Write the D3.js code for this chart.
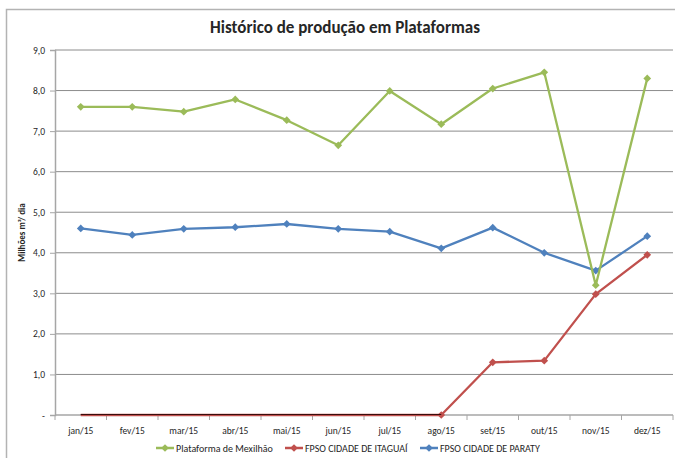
<!DOCTYPE html>
<html>
<head>
<meta charset="utf-8">
<script src="https://cdn.jsdelivr.net/npm/d3@7"></script>
<style>
  body { margin: 0; background: #fff; }
  text { font-family: Carlito, Calibri, "Liberation Sans Narrow", "Open Sans", sans-serif; fill: #262626; }
</style>
</head>
<body>
<div id="chart"></div>
<script>
var months = ["jan/15", "fev/15", "mar/15", "abr/15", "mai/15", "jun/15",
              "jul/15", "ago/15", "set/15", "out/15", "nov/15", "dez/15"];
var mexilhao = [7.6, 7.6, 7.48, 7.78, 7.27, 6.65, 7.99, 7.17, 8.05, 8.45, 3.2, 8.3];
var itaguai  = [0, 0, 0, 0, 0, 0, 0, 0, 1.3, 1.34, 2.98, 3.95];
var paraty   = [4.6, 4.44, 4.59, 4.63, 4.71, 4.59, 4.52, 4.11, 4.62, 4.0, 3.56, 4.41];
var yTicks = [0, 1, 2, 3, 4, 5, 6, 7, 8, 9];

var svgWidth = 675;
var svgHeight = 458;
var margin = { top: 50, right: 2, bottom: 43, left: 55 };
var width = svgWidth - margin.left - margin.right;
var height = svgHeight - margin.top - margin.bottom;

var svg = d3.select("#chart")
  .append("svg")
  .attr("width", svgWidth)
  .attr("height", svgHeight);

// outer frame of the chart area
svg.append("rect")
  .attr("x", 6.5).attr("y", 9.5)
  .attr("width", 700).attr("height", 500)
  .attr("fill", "none")
  .attr("stroke", "#b3b3b3")
  .attr("stroke-width", 1.5);

svg.append("text")
  .attr("x", 345).attr("y", 33)
  .attr("text-anchor", "middle")
  .attr("font-size", "17px")
  .attr("font-weight", "bold")
  .text("Histórico de produção em Plataformas");

var chartGroup = svg.append("g")
  .attr("transform", `translate(${margin.left}, ${margin.top})`);

var x = d3.scaleBand().domain(months).range([0, width]);
var y = d3.scaleLinear().domain([0, 9]).range([height, 0]);

// gridlines
chartGroup.append("g")
  .selectAll("line")
  .data(yTicks.slice(1))
  .enter()
  .append("line")
  .attr("x1", 0).attr("x2", width)
  .attr("y1", d => y(d)).attr("y2", d => y(d))
  .attr("stroke", "#8c8c8c")
  .attr("stroke-width", 1);

var fmt = d => d === 0 ? "-" : d3.format(".1f")(d).replace(".", ",");

var leftAxis = d3.axisLeft(y).tickValues(yTicks).tickFormat(fmt).tickSize(5).tickPadding(5);
var yAxis = chartGroup.append("g").call(leftAxis);
yAxis.select(".domain").attr("stroke", "#a6a6a6").attr("stroke-width", 1.5);
yAxis.selectAll(".tick line").attr("stroke", "#a6a6a6");
yAxis.selectAll("text").attr("font-size", "9.5px").attr("fill", "#404040");

// x axis with tick marks between categories
var xAxisG = chartGroup.append("g").attr("transform", `translate(0, ${height})`);
xAxisG.append("line")
  .attr("x1", 0).attr("x2", width)
  .attr("stroke", "#a6a6a6").attr("stroke-width", 1.5);
xAxisG.selectAll(".xtick")
  .data(months)
  .enter()
  .append("line")
  .attr("class", "xtick")
  .attr("x1", d => x(d) + x.bandwidth()).attr("x2", d => x(d) + x.bandwidth())
  .attr("y1", 0).attr("y2", 5)
  .attr("stroke", "#a6a6a6");
xAxisG.append("line")
  .attr("x1", 0).attr("x2", 0).attr("y1", 0).attr("y2", 5)
  .attr("stroke", "#a6a6a6");
xAxisG.selectAll(".xlabel")
  .data(months)
  .enter()
  .append("text")
  .attr("class", "xlabel")
  .attr("x", d => x(d) + x.bandwidth() / 2)
  .attr("y", 19)
  .attr("text-anchor", "middle")
  .attr("font-size", "9.5px")
  .attr("fill", "#404040")
  .text(d => d);

svg.append("text")
  .attr("transform", `translate(25, ${margin.top + height / 2}) rotate(-90)`)
  .attr("text-anchor", "middle")
  .attr("font-size", "9px")
  .attr("font-weight", "bold")
  .text("Milhões  m³/ dia");

var series = [
  { name: "Plataforma de Mexilhão", values: mexilhao, color: "#9bbb59", firstMarker: 0 },
  { name: "FPSO CIDADE DE ITAGUAÍ", values: itaguai, color: "#c0504d", firstMarker: 7 },
  { name: "FPSO CIDADE DE PARATY", values: paraty, color: "#4f81bd", firstMarker: 0 }
];

var line = d3.line()
  .x((d, i) => x(months[i]) + x.bandwidth() / 2)
  .y(d => y(d));

// square turned 45 degrees gives the even diamond of the original
var diamond = d3.symbol().type(d3.symbolSquare).size(30);

// draw red first so blue and green sit above it
[series[1], series[2], series[0]].forEach(function(s) {
  chartGroup.append("path")
    .datum(s.values)
    .attr("d", line)
    .attr("fill", "none")
    .attr("stroke", s.color)
    .attr("stroke-width", 2.3)
    .attr("stroke-linejoin", "round");

  chartGroup.selectAll(null)
    .data(s.values.map((v, i) => ({ v: v, i: i })).filter(d => d.i >= s.firstMarker))
    .enter()
    .append("path")
    .attr("d", diamond)
    .attr("transform", d => `translate(${x(months[d.i]) + x.bandwidth() / 2}, ${y(d.v)}) rotate(45)`)
    .attr("fill", s.color);
});

// dark overlay where the red series runs along the axis
chartGroup.append("line")
  .attr("x1", x(months[0]) + x.bandwidth() / 2)
  .attr("x2", x(months[7]) + x.bandwidth() / 2)
  .attr("y1", y(0) - 0.5).attr("y2", y(0) - 0.5)
  .attr("stroke", "#3a0d0d").attr("stroke-width", 1.2);

// legend
var legendX = [156, 285, 420];
var legend = svg.selectAll(".legend")
  .data(series)
  .enter()
  .append("g")
  .attr("transform", (d, i) => `translate(${legendX[i]}, 448)`);
legend.append("line")
  .attr("x1", 0).attr("x2", 18)
  .attr("stroke", d => d.color).attr("stroke-width", 2.5);
legend.append("path")
  .attr("d", diamond)
  .attr("transform", "translate(9, 0) rotate(45)")
  .attr("fill", d => d.color);
legend.append("text")
  .attr("x", 20).attr("y", 3.5)
  .attr("font-size", "10px")
  .attr("fill", "#404040")
  .text(d => d.name);
</script>
</body>
</html>
